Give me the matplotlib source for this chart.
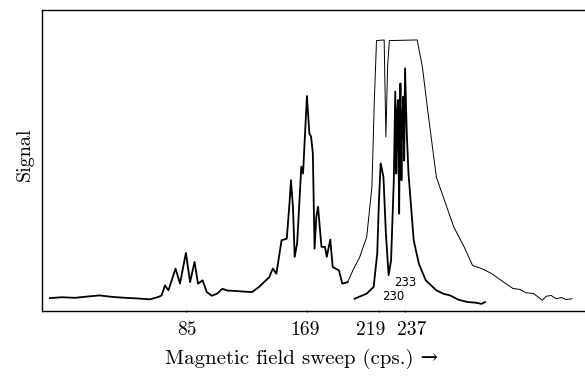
import numpy as np
import matplotlib
matplotlib.use('Agg')
import matplotlib.pyplot as plt
import matplotlib.transforms as mtransforms

plt.rcParams['font.family'] = ['cmr10', 'DejaVu Serif']
plt.rcParams['axes.formatter.use_mathtext'] = True
plt.rcParams['mathtext.fontset'] = 'cm'

# main trace (low gain)
main_cps = [-9.4, -1.0, 8.0, 16.0, 25.0, 34.0, 43.0, 51.0, 60.0, 66.0, 68.1, 70.5, 72.9,
            77.8, 80.9, 85.0, 87.9, 91.0, 93.4, 96.6,
            99.5, 103.0, 106.7, 110.3, 114.0, 118.8, 124.0, 130.9, 135.7, 142.9, 145.3,
            147.8, 151.4, 155.0,
            156.9, 157.9, 159.3, 160.5, 162.2, 165.1, 166.3, 169.0, 170.7, 171.9, 173.1,
            174.3, 175.5, 176.7, 179.1, 181.5, 182.8, 185.2, 186.9, 191.2, 193.6, 197.2]
main_sig = [4.4, 4.7, 4.5, 4.9, 5.3, 4.8, 4.5, 4.3, 4.0, 4.8, 5.3, 8.6, 7.0,
            14.2, 9.2, 19.4, 9.7, 16.4, 9.2, 10.3,
            6.4, 5.2, 5.9, 7.5, 6.9, 6.8, 6.6, 6.4, 8.1, 11.4, 14.2,
            12.5, 23.6, 24.1,
            35.8, 43.5, 34.7, 18.1, 22.5, 48.0, 45.7, 71.4, 59.0, 57.9, 52.4,
            20.8, 31.3, 34.7, 21.4, 21.4, 18.1, 23.8, 14.7, 13.6, 9.2, 9.7]

# high gain envelope (thin line), continues from the main trace
env_cps = [197.2, 200.9, 205.7, 210.5, 214.1, 215.8, 217.3, 222.6, 223.8, 225.0, 226.2,
           245.5, 249.1, 252.8, 258.8, 263.6, 270.9, 278.1, 284.0, 290.2, 297.4, 302.0,
           307.1, 312.0, 316.7, 321.0, 326.4, 332.4, 335.0, 338.4, 342.0, 345.7, 349.0,
           352.9]
env_sig = [9.7, 13.6, 18.1, 24.7, 41.3, 70.1, 89.8, 90.0, 57.9, 81.2, 89.8,
           90.0, 81.2, 66.8, 44.6, 38.0, 28.0, 21.4, 15.2, 14.2, 12.5, 10.9,
           9.2, 7.6, 7.3, 6.2, 5.9, 3.7, 5.0, 5.3, 4.2, 4.6, 3.9,
           4.2]

# second trace around 219-237
sec_cps = [202.1, 206.0, 210.5, 215.3, 217.8, 219.0, 220.2, 222.1, 223.8, 225.7, 227.4,
           229.3, 230.3, 231.0, 231.6, 232.2, 233.0, 233.5, 233.9, 234.6, 235.2, 235.9,
           236.5, 237.1, 238.3, 239.5, 243.1, 246.7, 251.5, 258.8, 264.0, 268.4, 274.0,
           280.5, 286.0, 290.2, 292.6]
sec_sig = [4.2, 5.0, 5.9, 8.1, 19.2, 36.9, 49.1, 44.6, 25.8, 12.0, 16.9,
           43.5, 72.9, 45.7, 66.0, 70.1, 32.4, 60.0, 75.6, 43.5, 64.0, 71.2,
           50.0, 80.6, 59.0, 45.7, 23.6, 15.8, 10.3, 7.0, 5.8, 5.3, 3.9,
           3.1, 2.9, 2.5, 3.1]

tick_vals = [85, 169, 219, 237]
tick_labels = ['85', '169', '219', '237']
# small horizontal nudges (points) of the printed tick labels
tick_shift = [0.5, -1.5, -6.0, 5.0]

fig = plt.figure(figsize=(5.85, 3.77), dpi=100)
ax = fig.add_axes([0.071, 0.174, 0.929, 0.80])

ax.plot(main_cps, main_sig, color='black', lw=1.3)
ax.plot(env_cps, env_sig, color='black', lw=0.7)
ax.plot(sec_cps, sec_sig, color='black', lw=1.3)

ax.text(237.1, 9.7, '233', fontsize=8.5, family='DejaVu Sans', ha='center', va='center')
ax.text(228.6, 5.0, '230', fontsize=8.5, family='DejaVu Sans', ha='center', va='center')

ax.set_xlim(-15.2, 362)
ax.set_ylim(0, 100)
ax.spines['right'].set_visible(False)
for s in ['left', 'top', 'bottom']:
    ax.spines[s].set_linewidth(1.0)

ax.set_xticks(tick_vals)
ax.set_xticklabels(tick_labels)
ax.set_yticks([])
ax.tick_params(axis='x', length=2, direction='inout', pad=6, labelsize=14)
for tk, dx in zip(ax.xaxis.get_major_ticks(), tick_shift):
    off = mtransforms.ScaledTranslation(dx / 72, 0, fig.dpi_scale_trans)
    tk.label1.set_transform(tk.label1.get_transform() + off)

ax.set_xlabel('Magnetic field sweep (cps.) \u2192', fontsize=15)
ax.xaxis.set_label_coords(0.479, -0.125)
ax.set_ylabel('Signal', fontsize=14.5)
ax.yaxis.set_label_coords(-0.014, 0.52)

fig.savefig('out.png', dpi=100)
